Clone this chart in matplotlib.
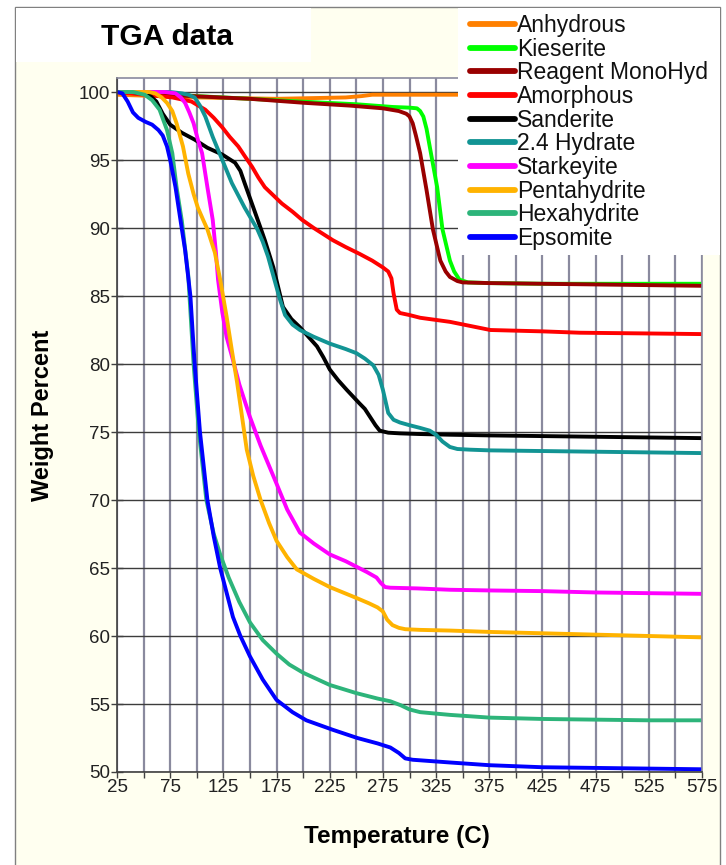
import numpy as np
import matplotlib.pyplot as plt
from matplotlib.patches import Rectangle
from matplotlib.lines import Line2D

plt.rcParams['font.family'] = ['Liberation Sans', 'DejaVu Sans']

# --- TGA curves (Temperature C, Weight %) ---
names = ['Anhydrous', 'Kieserite', 'Reagent MonoHyd', 'Amorphous', 'Sanderite',
         '2.4 Hydrate', 'Starkeyite', 'Pentahydrite', 'Hexahydrite', 'Epsomite']
colors = ['#FF8000', '#00FF00', '#990000', '#FF0000', '#000000',
          '#129494', '#FF00FF', '#FFB300', '#2DB47A', '#0000FF']

anhydrous_t = [25, 100, 175, 240, 255, 265, 300, 400, 575]
anhydrous_w = [99.8, 99.6, 99.5, 99.6, 99.7, 99.8, 99.8, 99.8, 99.8]

kieserite_t = [25, 50, 100, 150, 197, 250, 284, 300, 307, 310, 313, 316, 319, 326,
               331, 338, 342, 347, 355, 375, 425, 475, 525, 575]
kieserite_w = [100, 99.9, 99.7, 99.5, 99.3, 99.1, 98.9, 98.85, 98.8, 98.6, 98.2, 97.3,
               96.0, 93.0, 89.9, 87.6, 86.8, 86.2, 86.0, 85.95, 85.9, 85.9, 85.9, 85.9]

monohyd_t = [25, 50, 95, 150, 202, 244, 275, 290, 297, 300, 303, 306, 310, 316, 322,
             329, 334, 338, 345, 350, 375, 425, 475, 525, 575]
monohyd_w = [100, 99.9, 99.7, 99.5, 99.2, 99.0, 98.8, 98.6, 98.4, 98.2, 97.7, 96.8,
             95.5, 92.8, 89.9, 87.6, 86.8, 86.4, 86.1, 86.0, 85.95, 85.9, 85.85, 85.8, 85.75]

amorph_t = [25, 51, 77, 95, 108, 116, 124, 131, 139, 145, 152, 158, 164, 172, 180, 190,
            199, 210, 228, 240, 253, 265, 275, 280, 283, 285, 288, 291, 300, 310, 338,
            376, 425, 460, 520, 575]
amorph_w = [100, 99.8, 99.6, 99.3, 98.7, 98.1, 97.4, 96.7, 96.0, 95.3, 94.5, 93.7, 93.0,
            92.4, 91.8, 91.2, 90.6, 90.0, 89.1, 88.6, 88.1, 87.6, 87.1, 86.8, 86.3, 85.2,
            84.0, 83.75, 83.6, 83.4, 83.1, 82.5, 82.4, 82.3, 82.25, 82.2]

sanderite_t = [25, 40, 55, 62, 68, 75, 86, 98, 110, 124, 136, 141, 145, 150, 155, 160,
               164, 168, 172, 177, 181, 189, 197, 205, 213, 219, 225, 233, 241, 247, 253,
               258, 263, 268, 272, 280, 291, 310, 338, 375, 425, 475, 525, 575]
sanderite_w = [100, 100, 99.8, 99.3, 98.4, 97.6, 97.0, 96.5, 95.9, 95.4, 94.8, 94.2, 93.3,
               92.2, 91.1, 90.0, 89.1, 88.1, 87.1, 85.5, 84.2, 83.3, 82.7, 82.0, 81.3, 80.5,
               79.6, 78.8, 78.1, 77.6, 77.1, 76.7, 76.1, 75.5, 75.1, 74.95, 74.9, 74.85,
               74.8, 74.75, 74.7, 74.65, 74.6, 74.55]

hydrate24_t = [25, 50, 75, 86, 92, 98, 103, 108, 115, 124, 133, 145, 157, 162, 167, 173,
               178, 183, 190, 197, 210, 225, 240, 250, 258, 266, 271, 275, 280, 285, 291,
               300, 310, 319, 325, 331, 338, 345, 357, 375, 425, 475, 525, 575]
hydrate24_w = [100, 100, 100, 99.9, 99.8, 99.6, 99.0, 98.2, 96.7, 95.0, 93.3, 91.5, 89.9,
               89.0, 87.9, 86.2, 84.8, 83.6, 82.9, 82.5, 82.0, 81.5, 81.1, 80.8, 80.4, 79.9,
               79.2, 78.1, 76.4, 75.9, 75.7, 75.5, 75.3, 75.1, 74.8, 74.3, 73.9, 73.75,
               73.7, 73.65, 73.6, 73.55, 73.5, 73.45]

starkey_t = [25, 50, 70, 80, 85, 89, 93, 97, 101, 105, 110, 115, 118, 120, 124, 128, 134,
             140, 150, 160, 175, 185, 197, 210, 225, 240, 250, 260, 269, 273, 277, 282,
             307, 338, 375, 425, 475, 525, 575]
starkey_w = [100, 100, 100, 99.9, 99.6, 99.2, 98.5, 97.7, 96.5, 95.5, 93.0, 90.6, 88.2,
             86.2, 83.8, 82.0, 80.3, 78.5, 76.1, 74.0, 71.2, 69.3, 67.6, 66.8, 66.0, 65.5,
             65.1, 64.7, 64.3, 63.9, 63.6, 63.55, 63.5, 63.4, 63.35, 63.3, 63.2, 63.15, 63.1]

penta_t = [25, 40, 55, 61, 67, 72, 77, 81, 87, 92, 97, 101, 106, 110, 117, 122, 128, 133,
           138, 147, 153, 160, 168, 175, 185, 194, 210, 225, 250, 262, 270, 275, 279, 284,
           290, 296, 310, 338, 375, 425, 475, 525, 575]
penta_w = [100, 100, 100, 99.9, 99.6, 99.2, 98.6, 97.7, 96.0, 94.0, 92.5, 91.5, 90.6, 89.9,
           88.2, 86.2, 83.5, 81.0, 78.6, 73.7, 71.8, 70.0, 68.3, 67.0, 65.8, 64.9, 64.2,
           63.6, 62.8, 62.4, 62.1, 61.8, 61.2, 60.8, 60.6, 60.5, 60.45, 60.4, 60.3, 60.2,
           60.1, 60.0, 59.9]

hexa_t = [25, 40, 51, 58, 65, 72, 77, 81, 86, 92, 97, 102, 109, 116, 122, 130, 140, 150,
          162, 175, 187, 200, 225, 250, 270, 282, 292, 300, 310, 338, 375, 425, 475, 525, 575]
hexa_w = [100, 100, 99.8, 99.4, 98.7, 97.2, 95.5, 93.0, 90.5, 86.5, 80.0, 75.0, 70.0, 67.5,
          66.0, 64.3, 62.5, 61.0, 59.7, 58.7, 57.9, 57.3, 56.4, 55.8, 55.4, 55.2, 54.9,
          54.6, 54.4, 54.2, 54.0, 53.9, 53.85, 53.8, 53.8]

epsom_t = [25, 30, 35, 40, 45, 52, 58, 64, 68, 72, 75, 80, 86, 89, 94, 98, 103, 110, 116,
           122, 134, 141, 150, 162, 175, 190, 203, 228, 251, 270, 282, 290, 296, 303, 338,
           375, 425, 475, 525, 575]
epsom_w = [100, 99.9, 99.3, 98.5, 98.1, 97.8, 97.6, 97.2, 96.8, 96.0, 95.0, 93.0, 89.9,
           88.4, 85.0, 80.0, 75.0, 70.0, 67.3, 65.0, 61.4, 60.0, 58.5, 56.8, 55.3, 54.4,
           53.8, 53.1, 52.5, 52.1, 51.8, 51.4, 51.0, 50.9, 50.7, 50.5, 50.35, 50.3, 50.25, 50.2]

series = [(anhydrous_t, anhydrous_w), (kieserite_t, kieserite_w), (monohyd_t, monohyd_w),
          (amorph_t, amorph_w), (sanderite_t, sanderite_w), (hydrate24_t, hydrate24_w),
          (starkey_t, starkey_w), (penta_t, penta_w), (hexa_t, hexa_w), (epsom_t, epsom_w)]

W, H = 726, 865
fig = plt.figure(figsize=(W / 100, H / 100), dpi=100, facecolor='white')

def px_rect(x0, y0, x1, y1, **kw):
    # rectangle given in picture pixels (y down)
    return Rectangle((x0 / W, 1 - y1 / H), (x1 - x0) / W, (y1 - y0) / H,
                     transform=fig.transFigure, **kw)

# outer chart frame, title box, legend box
fig.patches.append(px_rect(15, 7, 720, 880, facecolor='#FFFFF0', edgecolor='#808080',
                           lw=1.0, zorder=-2))
fig.patches.append(px_rect(16, 7.5, 311, 62, facecolor='white', edgecolor='none', zorder=-1))
fig.patches.append(px_rect(458, 8, 719.5, 255, facecolor='white', edgecolor='none', zorder=2))

ax = fig.add_axes([117 / W, 1 - 772 / H, 585 / W, (772 - 78) / H])
ax.set_facecolor('white')

for (t, w), c in zip(series, colors):
    ax.plot(t, w, color=c, lw=2.8, solid_joinstyle='round', solid_capstyle='butt')

ax.set_xlim(25, 575)
ax.set_ylim(50, 101.03)
ax.set_xticks(np.arange(25, 576, 50))
ax.set_xticks(np.arange(50, 576, 50), minor=True)
ax.set_yticks(np.arange(50, 101, 5))
ax.set_axisbelow(True)
ax.grid(True, axis='x', which='both', color='#8a8a9e', lw=1.6)
ax.grid(True, axis='y', which='major', color='#3c3c3c', lw=1.0)
ax.tick_params(axis='x', which='both', direction='out', length=4, width=1,
               color='#404040', labelsize=13.5, labelcolor='#222222', pad=1)
ax.tick_params(axis='y', which='both', direction='inout', length=8, width=1,
               color='#404040', labelsize=13.5, labelcolor='#222222', pad=1)
for s in ['top', 'right']:
    ax.spines[s].set_color('#8a8a9e')
    ax.spines[s].set_linewidth(1.2)
for s in ['left', 'bottom']:
    ax.spines[s].set_color('#404040')
    ax.spines[s].set_linewidth(1.2)

fig.text(167 / W, 1 - 37 / H, 'TGA data', fontsize=21.5, fontweight='bold',
         ha='center', va='center')
fig.text(397 / W, 1 - 836 / H, 'Temperature (C)', fontsize=17.5, fontweight='bold',
         ha='center', va='center')
fig.text(43 / W, 1 - 415 / H, 'Weight Percent', fontsize=17, fontweight='bold',
         ha='center', va='center', rotation=90)

handles = [Line2D([], [], color=c, lw=4.2, solid_capstyle='round') for c in colors]
leg = fig.legend(handles, names, loc='upper left', bbox_to_anchor=(470 / W, 1 - 14 / H),
                 frameon=False, fontsize=16.5, labelspacing=0.03, handlelength=1.95,
                 handletextpad=0.12, borderpad=0, borderaxespad=0)
leg.set_zorder(3)
for txt in leg.get_texts():
    txt.set_color('#111111')

fig.savefig('out.png', dpi=100)
